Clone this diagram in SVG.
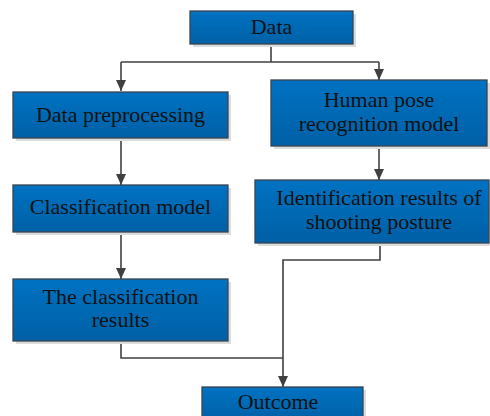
<svg xmlns="http://www.w3.org/2000/svg" width="490" height="416" viewBox="0 0 490 416">
<style>
.box{fill:url(#g);stroke:#3a4450;stroke-width:1.3}
.sh{fill:#dcdcdc}
.t{font-family:'Liberation Serif','Times New Roman','DejaVu Serif',serif;font-size:22px;fill:#111;text-anchor:middle}
.c{fill:none;stroke:#404040;stroke-width:1.6}
</style>
<defs>
<linearGradient id="g" x1="0" y1="0" x2="0" y2="1">
<stop offset="0" stop-color="#0072C2"/>
<stop offset="1" stop-color="#0060A6"/>
</linearGradient>
<marker id="a" markerWidth="12" markerHeight="10" refX="11" refY="5" orient="auto" markerUnits="userSpaceOnUse">
<path d="M0,0 L11,5 L0,10 Z" fill="#404040"/>
</marker>
</defs>
<g id="connectors">
<path class="c" d="M271,44 V62"/>
<path class="c" d="M121,62 H379"/>
<path class="c" d="M121,62 V91" marker-end="url(#a)"/>
<path class="c" d="M379,62 V80" marker-end="url(#a)"/>
<path class="c" d="M121,138 V185" marker-end="url(#a)"/>
<path class="c" d="M121,232 V279" marker-end="url(#a)"/>
<path class="c" d="M379,146 V180" marker-end="url(#a)"/>
<path class="c" d="M380,243 V260 H283 V387" marker-end="url(#a)"/>
<path class="c" d="M121,341 V358 H283"/>
</g>
<g id="data">
<rect class="sh" x="193" y="14" width="163" height="33"/>
<rect class="box" x="190" y="11" width="163" height="33"/>
<text class="t" x="271.5" y="34" font-family="Liberation Serif, serif">Data</text>
</g>
<g id="preprocessing">
<rect class="sh" x="16" y="95" width="215" height="46"/>
<rect class="box" x="13" y="92" width="215" height="46"/>
<text class="t" x="120.5" y="121.5" font-family="Liberation Serif, serif">Data preprocessing</text>
</g>
<g id="classification-model">
<rect class="sh" x="16" y="188" width="215" height="47"/>
<rect class="box" x="13" y="185" width="215" height="47"/>
<text class="t" x="120.5" y="214" font-family="Liberation Serif, serif">Classification model</text>
</g>
<g id="classification-results">
<rect class="sh" x="16" y="282" width="215" height="62"/>
<rect class="box" x="13" y="279" width="215" height="62"/>
<text class="t" x="120.5" y="303.5" font-family="Liberation Serif, serif">The classification</text>
<text class="t" x="120.5" y="327" font-family="Liberation Serif, serif">results</text>
</g>
<g id="pose-model">
<rect class="sh" x="274" y="83" width="216" height="66"/>
<rect class="box" x="271" y="80" width="216" height="66"/>
<text class="t" x="379" y="106.5" font-family="Liberation Serif, serif">Human pose</text>
<text class="t" x="379" y="131" font-family="Liberation Serif, serif">recognition model</text>
</g>
<g id="identification">
<rect class="sh" x="258" y="183" width="234" height="63"/>
<rect class="box" x="255" y="180" width="234" height="63"/>
<text class="t" x="379" y="205" font-family="Liberation Serif, serif">Identification results of</text>
<text class="t" x="379" y="229" font-family="Liberation Serif, serif">shooting posture</text>
</g>
<g id="outcome">
<rect class="sh" x="205" y="390" width="161" height="30"/>
<rect class="box" x="202" y="387" width="161" height="35"/>
<text class="t" x="278" y="409" font-family="Liberation Serif, serif">Outcome</text>
</g>
</svg>
